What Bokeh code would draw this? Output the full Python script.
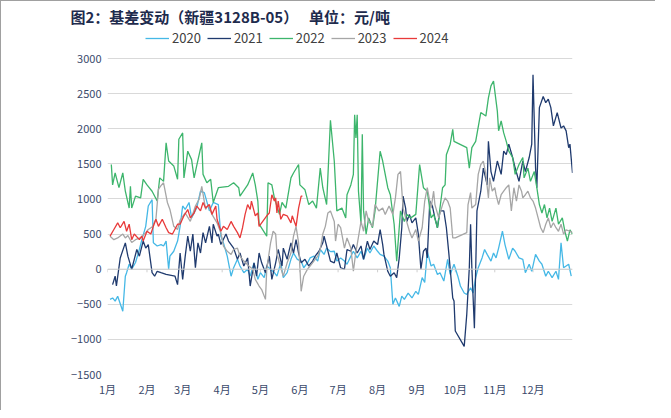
from bokeh.plotting import figure
from bokeh.models import Legend, LegendItem, FixedTicker, Span
from bokeh.embed import file_html
from bokeh.resources import INLINE

# ---------------- data ----------------
month_starts = [0, 31, 59, 90, 120, 151, 181, 212, 243, 273, 304, 334]
month_labels = ["1月", "2月", "3月", "4月", "5月", "6月", "7月", "8月", "9月", "10月", "11月", "12月"]
y_ticks = [-1500, -1000, -500, 0, 500, 1000, 1500, 2000, 2500, 3000]

d2020 = [2, 4, 6, 8, 12, 14, 15, 17, 19, 22, 25, 27, 30, 32, 35, 36, 39, 42, 44, 46,
         48, 49, 52, 55, 57, 59, 61, 64, 66, 70, 73, 76, 80, 83, 87, 89, 91, 94, 97, 99,
         102, 104, 107, 110, 112, 115, 118, 120, 123, 125, 128, 131, 133, 136, 138, 141, 144, 146, 149, 152,
         154, 157, 159, 162, 165, 167, 170, 172, 175, 178, 180, 183, 186, 188, 191, 193, 196, 199, 201, 204,
         206, 209, 212, 214, 217, 220, 222, 224, 226, 229, 231, 233, 236, 239, 242, 244, 247, 249, 251, 254,
         256, 259, 261, 264, 267, 269, 272, 275, 277, 280, 282, 285, 287, 289, 291, 294, 296, 298, 301, 303,
         305, 307, 310, 312, 315, 318, 320, 323, 326, 328, 331, 333, 336, 339, 341, 344, 346, 349, 352, 354,
         356, 358, 360, 362, 364]
v2020 = [-430, -410, -455, -385, -600, -100, -50, 70, 0, 95, 280, 420, 610, 900, 990, 375, 330, 350, 330, 400,
         0, 185, 255, 400, 610, 900, 850, 950, 730, 870, 1110, 1090, 830, 950, 920, 470, 375, 185, -100, 20,
         140, 45, -50, 0, -100, 90, -145, -50, -120, 45, 0, -50, -100, 90, -120, -50, 140, 230, 140, 115,
         20, 90, 160, 185, 115, 280, 210, 300, 250, 255, 115, 160, 115, 70, 185, 255, 160, 255, 140, 300,
         230, 330, 255, 210, 185, 115, 20, -500, -410, -530, -385, -430, -340, -410, -315, -360, -120, -190, 255, 45,
         70, -75, -50, -170, 140, -75, 70, -100, -240, -340, -360, -265, -340, -120, 20, 160, 280, 210, 115, 230,
         160, 300, 540, 350, 140, 300, 255, 160, 140, -50, 70, -30, 210, 115, 70, -100, -30, -120, -30, -145,
         375, 20, 45, 70, -100]

d2021 = [4, 6, 7, 10, 14, 16, 19, 21, 23, 25, 28, 30, 32, 35, 37, 39, 42, 46, 53, 55,
         57, 59, 61, 63, 65, 67, 69, 71, 73, 75, 77, 80, 82, 83, 86, 87, 89, 93, 95, 99,
         102, 104, 107, 110, 112, 115, 117, 119, 121, 124, 127, 129, 132, 134, 137, 138, 141, 144, 146, 148,
         150, 152, 155, 158, 161, 163, 166, 169, 170, 172, 175, 178, 180, 183, 186, 188, 191, 193, 196, 199,
         201, 204, 206, 209, 212, 214, 216, 217, 220, 222, 225, 227, 229, 231, 232, 234, 235, 237, 239, 242,
         244, 246, 248, 250, 251, 253, 255, 257, 259, 261, 264, 266, 268, 271, 272, 273, 280, 282, 284, 285,
         286, 288, 290, 293, 295, 298, 299, 301, 303, 306, 309, 311, 313, 315, 318, 320, 323, 326, 328, 331,
         333, 334, 336, 337, 339, 342, 344, 346, 348, 350, 353, 356, 358, 360, 362, 363, 365]
v2021 = [-220, -100, -240, 160, 375, 185, 0, 140, 280, 185, 400, 300, 350, -50, -100, -30, -50, -75, -100, -220,
         230, -145, 185, 470, 255, 500, 20, 375, 230, 520, 375, 610, 375, 640, 470, 500, 350, 500, 400, 300,
         140, 230, 45, 160, -240, 90, -100, 230, 90, -50, 185, -145, 90, 280, 45, 300, 140, 375, 230, 420,
         230, 90, 140, 45, 115, 185, 255, 375, 470, 330, 115, 90, 230, 20, 0, 280, 255, 350, 230, 330,
         140, 400, 280, 400, 350, 565, 350, 210, -30, -100, -50, -120, 160, 590, 1040, 870, 680, 780, 660, 730,
         500, 0, 255, 300, 160, 970, 900, 730, 590, 830, 830, 590, 210, -410, -455, -880, -1100, -645, 20, 640,
         20, -840, 830, 1110, 1440, 1200, 1820, 1390, 1250, 1540, 1350, 1680, 1630, 1780, 1590, 1440, 1250, 1540, 1390, 1590,
         1780, 2770, 1440, 1160, 2300, 2460, 2370, 2420, 2300, 2040, 2230, 2010, 2040, 1970, 1730, 1780, 1370]

d2022 = [3, 4, 6, 9, 12, 14, 17, 18, 19, 22, 26, 28, 31, 35, 39, 41, 44, 46, 48, 52,
         55, 56, 59, 60, 63, 66, 68, 70, 74, 75, 78, 81, 83, 87, 95, 99, 103, 104, 110, 114,
         116, 118, 119, 125, 126, 129, 131, 135, 137, 140, 144, 146, 150, 151, 155, 158, 161, 164, 167, 169,
         172, 175, 178, 180, 184, 187, 188, 191, 193, 194, 195, 196, 197, 199, 200, 201, 203, 205, 208, 210,
         214, 216, 220, 222, 225, 227, 230, 233, 235, 238, 242, 245, 248, 251, 254, 256, 259, 263, 265, 266,
         269, 271, 272, 282, 284, 286, 289, 293, 297, 299, 301, 303, 306, 307, 309, 311, 313, 315, 318, 320,
         323, 326, 327, 330, 332, 335, 337, 339, 341, 343, 345, 347, 349, 352, 354, 357, 359, 361, 363, 365]
v2022 = [1490, 1200, 1370, 1160, 1370, 1110, 870, 1180, 870, 1040, 1015, 1280, 1200, 1110, 970, 1300, 1250, 1800, 1540, 1470,
         1280, 1850, 1940, 1300, 1680, 1560, 1300, 1470, 1800, 1350, 1230, 1280, 950, 1160, 1180, 1230, 1160, 1040, 1200, 1370,
         1200, 970, 640, 470, 1230, 1200, 1015, 780, 950, 870, 1300, 1370, 1490, 1200, 1130, 920, 970, 870, 1440, 1160,
         920, 2120, 1540, 830, 870, 730, 1060, 1200, 1350, 2200, 1870, 2200, 1110, 640, 1920, 830, 500, 730, 590, 830,
         1680, 1540, 1160, 1060, 640, 115, 830, 680, 780, 730, 780, 1490, 1160, 1110, 730, 780, 590, 1160, 1200, 1630,
         1780, 1990, 1820, 1730, 1440, 1730, 1820, 2230, 2180, 2440, 2610, 2680, 2250, 1970, 2110, 1940, 1820, 1680, 1590, 1350,
         1490, 1590, 1300, 1440, 1250, 1390, 1160, 920, 800, 920, 730, 870, 680, 870, 640, 730, 540, 400, 560, 500]

d2023 = [2, 5, 8, 12, 14, 16, 19, 22, 26, 30, 32, 35, 38, 40, 42, 44, 47, 49, 52, 55,
         57, 61, 65, 69, 72, 74, 77, 79, 82, 86, 89, 91, 94, 97, 99, 102, 104, 107, 111, 114,
         116, 119, 121, 124, 125, 128, 130, 132, 133, 136, 138, 141, 144, 146, 148, 150, 152, 154, 157, 159,
         162, 165, 167, 169, 171, 173, 175, 178, 179, 181, 183, 186, 188, 191, 193, 195, 196, 199, 201, 203,
         205, 208, 210, 213, 216, 218, 221, 224, 226, 228, 230, 232, 234, 237, 239, 242, 244, 247, 249, 251,
         254, 256, 257, 260, 263, 265, 267, 269, 271, 273, 282, 283, 285, 286, 289, 291, 293, 295, 297, 299,
         300, 302, 304, 305, 307, 309, 311, 313, 315, 317, 319, 321, 323, 325, 326, 328, 330, 332, 334, 336,
         338, 340, 342, 344, 346, 348, 350, 352, 354, 356, 358, 360, 363, 365]
v2023 = [470, 420, 445, 500, 445, 480, 380, 420, 450, 520, 565, 600, 710, 1140, 1190, 1230, 950, 850, 610, 565,
         700, 800, 680, 900, 1000, 1180, 850, 920, 780, 660, 520, 330, 255, 210, 280, 300, 185, 115, 45, 0,
         -145, -240, -290, -430, 0, 375, 540, 500, 230, 20, -100, 90, 230, 470, 610, 375, -315, -100, 0, 45,
         115, 185, 280, 500, 610, 800, 830, 680, 400, 640, 590, 300, 445, 300, -30, 255, 350, 680, 540, 830,
         680, 610, 920, 830, 870, 780, 900, 780, 1015, 1350, 1390, 870, 730, 540, 445, 565, 400, 590, 970, 1160,
         870, 1110, 920, 730, 920, 1015, 970, 870, 445, 445, 520, 920, 1090, 870, 920, 1350, 1490, 1540, 1350, 1015,
         1300, 1110, 1160, 1060, 920, 1060, 1110, 1160, 1200, 830, 1160, 970, 1200, 1110, 1015, 1060, 1110, 1015, 970, 870,
         730, 590, 520, 640, 730, 590, 660, 590, 540, 640, 500, 560, 540, 520]

d2024 = [2, 5, 8, 10, 13, 15, 17, 19, 21, 25, 27, 28, 31, 34, 36, 38, 40, 43, 46, 48,
         51, 55, 57, 60, 63, 65, 68, 70, 73, 75, 77, 80, 82, 85, 86, 89, 91, 94, 97, 99,
         102, 104, 106, 108, 110, 112, 113, 116, 118, 119, 121, 125, 127, 129, 131, 132, 133, 134, 136, 138,
         141, 144, 145, 148, 150, 152, 153]
v2024 = [470, 565, 660, 590, 680, 540, 640, 420, 500, 420, 470, 400, 540, 500, 610, 710, 610, 710, 590, 520,
         500, 640, 640, 760, 850, 730, 800, 900, 830, 950, 870, 920, 780, 900, 710, 540, 610, 565, 680, 610,
         520, 445, 590, 780, 920, 850, 970, 760, 800, 610, 660, 760, 800, 1060, 970, 1015, 800, 970, 710, 780,
         760, 660, 760, 610, 870, 1040, 1040]

series = [
    ("2020", d2020, v2020, "#45b8e6"),
    ("2021", d2021, v2021, "#1f3a6e"),
    ("2022", d2022, v2022, "#3db56c"),
    ("2023", d2023, v2023, "#a6a6a6"),
    ("2024", d2024, v2024, "#e83a3a"),
]

title_text = "图2：基差变动（新疆3128B-05）\u3000 单位：元/吨"

# ---------------- figure ----------------
FONT = "Noto Sans CJK SC"
AXIS_COLOR = "#3b4a6b"

W, H = 655, 410
TOP, BOTTOM, LEFT, RIGHT = 26, 37, 106, 84
PX_PER_UNIT = 316 / 4500               # 500 per ~35 px as in the reference
Y_TOP = 3000 + 31 / PX_PER_UNIT        # frame extends above 3000 to hold the legend

p = figure(width=W, height=H, x_range=(0, 365), y_range=(-1500, Y_TOP),
           output_backend="svg", toolbar_location=None,
           min_border_left=LEFT, min_border_right=RIGHT, min_border_top=TOP, min_border_bottom=BOTTOM)
p.outline_line_color = None
p.background_fill_color = "white"
p.border_fill_color = "white"
p.styles = {"border-left": "1px solid #a0a0a0", "border-top": "1px solid #a0a0a0"}

p.title.text = title_text
p.title.align = "left"
p.title.offset = -37
p.title.standoff = 0
p.title.text_font = FONT
p.title.text_font_size = "15px"
p.title.text_font_style = "bold"
p.title.text_color = "#1e2b4d"
p.title.vertical_align = "middle"

p.xgrid.visible = False
p.ygrid.grid_line_color = "#d9d9d9"
p.ygrid.grid_line_width = 1
p.yaxis.ticker = FixedTicker(ticks=y_ticks)
p.xaxis.ticker = FixedTicker(ticks=month_starts)
p.xaxis.major_label_overrides = {m: lab for m, lab in zip(month_starts, month_labels)}

for ax in (p.xaxis[0], p.yaxis[0]):
    ax.axis_line_color = None
    ax.major_tick_line_color = None
    ax.minor_tick_line_color = None
    ax.major_tick_out = 0
    ax.major_tick_in = 0
    ax.minor_tick_out = 0
    ax.minor_tick_in = 0
    ax.major_label_text_font = FONT
    ax.major_label_text_font_size = "11px"
    ax.major_label_text_color = AXIS_COLOR
p.yaxis.major_label_standoff = 6
p.xaxis.major_label_standoff = 6

# zero axis line with month ticks
p.add_layout(Span(location=0, dimension="width", line_color="#cfcfcf", line_width=1))
p.segment(x0=month_starts, y0=[0] * len(month_starts), x1=month_starts,
          y1=[-45] * len(month_starts), line_color="#cfcfcf", line_width=1)

items = []
for name, d, v, c in series:
    r = p.line(d, v, line_color=c, line_width=1.3)
    items.append(LegendItem(label=name, renderers=[r]))

legend = Legend(items=items, orientation="horizontal", location=(38, 327),
                border_line_color=None, background_fill_alpha=0,
                padding=0, margin=0, spacing=6, glyph_width=24, glyph_height=14,
                label_standoff=3, label_text_font=FONT, label_text_font_size="13px",
                label_text_color="#404040", label_height=14)
p.add_layout(legend, "center")

open("out.html", "w").write(file_html(p, INLINE))
